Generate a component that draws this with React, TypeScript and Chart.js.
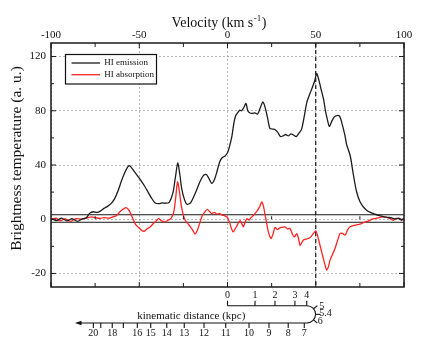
import React, { useEffect, useRef } from 'react';
import { Chart, registerables, LinearScale } from 'chart.js';

// ---------------- data ----------------
const EMISSION_VELOCITY = [
  -100, -97, -94, -91, -88, -85, -82, -80, -78, -76, -74, -72, -70, -68, -66, -64, -62, -60, -58, -56,
  -55, -53, -51, -49, -47, -45, -43, -41, -39, -37, -35, -33, -31, -29.5, -28.2, -27, -26, -24.5, -23, -21,
  -19.5, -17.5, -15.5, -13.5, -12, -10.5, -9, -7.5, -6, -4.5, -3, -1.5, 0, 1, 2.4, 3.5, 4.5, 6, 7, 8,
  9.5, 10.5, 11.5, 12.5, 14, 15.5, 17, 18.5, 20, 21, 22.5, 24, 25.5, 27, 28.5, 30, 31.5, 33, 34.5, 36,
  37.5, 39, 40.5, 42, 43.5, 45, 46.5, 48, 49.5, 50.5, 51.5, 53, 54.5, 55.5, 56.5, 57.7, 59, 60.5, 62, 63.5,
  65, 66.5, 67.5, 69.5, 71.3, 73, 75, 77, 79, 81, 83, 85, 87.5, 90, 93, 95, 97, 98.5, 100,
];
const EMISSION_TEMPERATURE = [
  0.5, -0.5, 0.8, -0.6, 0.4, -0.8, 0.5, 1.0, 4.5, 5.5, 5.0, 6.0, 8.0, 9.5, 11.5, 15, 21, 28.5, 35, 39.5,
  39, 35.5, 32, 28.5, 24.5, 20, 15.5, 12, 11.5, 12, 11.8, 12.5, 19, 31, 41.5, 33, 23, 15, 11, 12,
  15.5, 21.5, 28, 32.5, 33, 30, 26.5, 29, 35, 42, 45.5, 46.5, 49, 53, 60.5, 70, 76, 79, 80.5, 80,
  83, 85.5, 80, 78.5, 78, 78.5, 77.5, 82, 86.5, 84, 76, 67, 66.5, 66, 64, 61, 61.5, 62.5, 61.5, 63,
  62, 61, 63.5, 66.5, 76, 86.5, 92, 97, 102.5, 107.5, 104, 96, 88, 80, 74, 68.5, 72, 75.5, 76.5, 76,
  70, 62, 55, 47, 33, 21, 13, 9, 6.5, 5, 4, 3, 2.3, 1.5, 1, 0.2, 0.8, -0.3, 0.3,
];

const ABSORPTION_VELOCITY = [
  -100, -97, -95, -92, -89, -86, -83, -80, -77, -75, -72, -70, -67, -65, -63, -61, -59, -57.5, -56, -55,
  -53.5, -52, -50.5, -48.5, -47, -45.5, -44, -42, -40, -39, -37.5, -35.5, -33.5, -32, -30.5, -29.5, -28.3, -27.2, -26.3, -25,
  -24, -22.5, -21, -19.5, -18.4, -17, -16, -14.5, -13, -11.5, -10, -9, -7.5, -6, -4.5, -3, -1.5, 0, 1.2, 2.3,
  3.3, 4.3, 5.2, 6.3, 7.2, 8.2, 9, 10, 11, 12.2, 13.3, 14.5, 15.6, 17, 18.3, 19.4, 20.3, 21.2, 22.2, 23,
  24.6, 25.8, 26.9, 28.2, 29.7, 31, 32.6, 34, 35.4, 37, 38, 39.2, 40.2, 41.1, 42.2, 43, 44.5, 45.8, 47.2, 48.6,
  50, 50.8, 52.4, 54.3, 55.3, 56.2, 57.2, 58.1, 59.5, 60.9, 62.3, 63.7, 65.2, 66.6, 68, 69.4, 72.2, 74, 76, 78,
  79.8, 82, 83.6, 86, 88.3, 91.1, 92.5, 93.9, 95.5, 96.8, 98.5, 100,
];
const ABSORPTION_TEMPERATURE = [
  0, 0.8, -0.6, 0.3, -0.8, 0.4, 0, 0.8, 1.8, 1.2, 0.6, 1.2, 0.8, 1.8, 2.5, 5.5, 7.5, 8.5, 7, 4.5,
  0, -2, -3, -4.2, -4.4, -3.5, -3, -1.6, -0.4, 0.5, -0.5, -1, -0.3, 0.6, 5, 14, 27.5, 20, 11, 3,
  -0.4, -1.6, -2.8, -4.2, -5.5, -4, -2, 2, 5, 7.2, 5.5, 4.2, 5, 3.8, 4.2, 3, 2.5, 1.2, -1.2, -3.5,
  -4.7, -3.5, -2.6, -1.2, -0.5, -1.8, -2.8, -1, 0.5, -0.3, 1.2, 2.5, 4.2, 6.5, 9.5, 12.8, 10, 4, -1.5, -4.3,
  -7.1, -5.5, -3, -3.8, -3.2, -3, -2.8, -3.6, -3.4, -5.8, -6.5, -5.3, -7, -9.6, -8.5, -7.7, -7.3, -7.1, -6.5, -5.3,
  -4.3, -5.5, -9.6, -14.5, -17, -18.8, -17.5, -15.1, -13, -10.8, -8, -5.3, -5.2, -5.9, -4, -2.8, -2.2, -2, -1.6, -1,
  -0.7, 0, 0.5, 1.2, 1.7, 1, 0.2, -0.4, 0.6, 0.5, -0.2, 0.2,
];

const VELOCITY_MIN = -100;
const VELOCITY_MAX = 100;
const VELOCITY_STEP = 50;
const VELOCITY_MINOR_TICKS = [-75, -25, 25, 75];
const TEMPERATURE_MIN = -25;
const TEMPERATURE_MAX = 130;
const TEMPERATURE_TICKS = [-20, 0, 40, 80, 120];
const TEMPERATURE_MINOR_TICKS = [-10, 20, 60, 100];
const NEGATIVE_STRETCH = 2; // the negative part of the temperature axis is drawn at twice the scale
const NOISE_LEVELS = [3.3, -1.1];
const TANGENT_VELOCITY = 50;

const NEAR_DISTANCES = ['0', '1', '2', '3', '4'];
const NEAR_VELOCITIES = [0, 15.6, 26.9, 38.2, 44.9];
const TURN_DISTANCES = ['5', '5.4', '6'];
const TURN_VELOCITY = 45;
const FAR_DISTANCES = ['7', '8', '9', '10', '11', '12', '13', '14', '15', '16', '17', '18', '19', '20'];
const FAR_VELOCITIES = [43.5, 34.4, 23.5, 12.2, -1.0, -13.3, -24.5, -34.4, -43.5, -51.1, -59.0, -65.3, -71.8, -76.0];
const FAR_UNLABELLED = ['17', '19'];
const ARROW_VELOCITY = -86.4;

const LEGEND_LABELS = ['HI emission', 'HI absorption'];
const SERIES_COLORS = ['#1c1c1c', '#ff2424'];
const X_TITLE = 'Velocity (km s';
const X_TITLE_SUP = '-1';
const Y_TITLE = 'Brightness temperature (a. u.)';
const DIST_TITLE = 'kinematic distance (kpc)';

const FONT = "'Liberation Serif', 'Times New Roman', serif";

// ---------------- split linear scale ----------------
class SplitLinearScale extends LinearScale {
  static id = 'splitLinear';
  static defaults = {};
  determineDataLimits() {
    super.determineDataLimits();
    if (this.min < 0) this.min = this.min * NEGATIVE_STRETCH;
    if (this.max < 0) this.max = this.max * NEGATIVE_STRETCH;
  }
  buildTicks() {
    return TEMPERATURE_TICKS.map((v) => ({ value: v }));
  }
  getPixelForValue(value: number) {
    if (value === null || value === undefined) return NaN;
    return super.getPixelForValue(value < 0 ? value * NEGATIVE_STRETCH : value);
  }
  getValueForPixel(pixel: number) {
    const v = super.getValueForPixel(pixel);
    return v < 0 ? v / NEGATIVE_STRETCH : v;
  }
}

Chart.register(...registerables, SplitLinearScale);

function seg(ctx: CanvasRenderingContext2D, x1: number, y1: number, x2: number, y2: number) {
  ctx.beginPath();
  ctx.moveTo(x1, y1);
  ctx.lineTo(x2, y2);
  ctx.stroke();
}

const decorPlugin = {
  id: 'decor',
  beforeDatasetsDraw(chart: any) {
    const { ctx, chartArea: a } = chart;
    const x = chart.scales.x;
    const y = chart.scales.y;
    ctx.save();
    ctx.strokeStyle = '#151515';
    ctx.lineWidth = 1.1;
    NOISE_LEVELS.forEach((n) => {
      const py = y.getPixelForValue(n);
      seg(ctx, a.left, py, a.right, py);
    });
    ctx.setLineDash([4, 3]);
    ctx.lineWidth = 1.2;
    const tx = x.getPixelForValue(TANGENT_VELOCITY);
    seg(ctx, tx, a.top, tx, a.bottom);
    ctx.restore();
  },
  afterDatasetsDraw(chart: any) {
    const { ctx, chartArea: a } = chart;
    const x = chart.scales.x;
    const y = chart.scales.y;
    ctx.save();
    ctx.strokeStyle = '#1a1a1a';
    ctx.lineWidth = 1;
    // inward ticks
    TEMPERATURE_TICKS.forEach((v) => {
      const py = y.getPixelForValue(v);
      seg(ctx, a.left, py, a.left + 5, py);
      seg(ctx, a.right - 5, py, a.right, py);
    });
    TEMPERATURE_MINOR_TICKS.forEach((v) => {
      const py = y.getPixelForValue(v);
      seg(ctx, a.left, py, a.left + 3, py);
      seg(ctx, a.right - 3, py, a.right, py);
    });
    for (let v = VELOCITY_MIN; v <= VELOCITY_MAX; v += VELOCITY_STEP) {
      const px = x.getPixelForValue(v);
      seg(ctx, px, a.top, px, a.top + 5);
      seg(ctx, px, a.bottom - 5, px, a.bottom);
    }
    const y0 = y.getPixelForValue(0);
    VELOCITY_MINOR_TICKS.forEach((v) => {
      const px = x.getPixelForValue(v);
      seg(ctx, px, a.top, px, a.top + 4);
      seg(ctx, px, a.bottom - 4, px, a.bottom);
      seg(ctx, px, y0 - 3, px, y0);
    });
    // frame
    ctx.lineWidth = 1.5;
    ctx.strokeRect(a.left, a.top, a.right - a.left, a.bottom - a.top);
    // legend
    const lx = a.left + 14.5;
    const ly = a.top + 11.5;
    ctx.fillStyle = '#fff';
    ctx.fillRect(lx, ly, 91, 29.5);
    ctx.lineWidth = 1.2;
    ctx.strokeStyle = '#111';
    ctx.strokeRect(lx, ly, 91, 29.5);
    ctx.font = `9px ${FONT}`;
    ctx.textBaseline = 'middle';
    ctx.textAlign = 'left';
    LEGEND_LABELS.forEach((label, i) => {
      const rowY = ly + 8.5 + i * 11.7;
      ctx.strokeStyle = SERIES_COLORS[i];
      ctx.lineWidth = 1.3;
      seg(ctx, lx + 6, rowY, lx + 34.5, rowY);
      ctx.fillStyle = '#111';
      ctx.fillText(label, lx + 38.8, rowY);
    });
    ctx.restore();
  },
  afterDraw(chart: any) {
    const { ctx, chartArea: a } = chart;
    const x = chart.scales.x;
    ctx.save();
    ctx.fillStyle = '#111';
    ctx.strokeStyle = '#111';
    // x title with superscript
    ctx.textBaseline = 'alphabetic';
    ctx.textAlign = 'left';
    ctx.font = `14px ${FONT}`;
    const w1 = ctx.measureText(X_TITLE).width;
    const w3 = ctx.measureText(')').width;
    ctx.font = `9px ${FONT}`;
    const w2 = ctx.measureText(X_TITLE_SUP).width;
    const total = w1 + w2 + w3 + 1;
    const cx = x.getPixelForValue(-4.8);
    let sx = cx - total / 2;
    const base = 26.5;
    ctx.font = `14px ${FONT}`;
    ctx.fillText(X_TITLE, sx, base);
    sx += w1 + 0.5;
    ctx.font = `9px ${FONT}`;
    ctx.fillText(X_TITLE_SUP, sx, base - 6);
    sx += w2 + 0.5;
    ctx.font = `14px ${FONT}`;
    ctx.fillText(')', sx, base);
    // y title
    ctx.save();
    ctx.translate(17, 158.5);
    ctx.rotate(-Math.PI / 2);
    ctx.textAlign = 'center';
    ctx.textBaseline = 'middle';
    ctx.font = `15.5px ${FONT}`;
    ctx.fillText(Y_TITLE, 0, 0);
    ctx.restore();

    // kinematic distance axis
    const yUp = a.bottom + 18.7;
    const yLow = a.bottom + 36;
    const r = (yLow - yUp) / 2;
    const yc = (yUp + yLow) / 2;
    const xTurn = x.getPixelForValue(TURN_VELOCITY);
    const xStart = x.getPixelForValue(NEAR_VELOCITIES[0]);
    const xArrow = x.getPixelForValue(ARROW_VELOCITY);
    ctx.lineWidth = 1.1;
    ctx.beginPath();
    ctx.moveTo(xStart, yUp);
    ctx.lineTo(xTurn, yUp);
    ctx.arc(xTurn, yc, r, -Math.PI / 2, Math.PI / 2, false);
    ctx.lineTo(xArrow + 5, yLow);
    ctx.stroke();
    ctx.beginPath();
    ctx.moveTo(xArrow, yLow);
    ctx.lineTo(xArrow + 6.5, yLow - 2.3);
    ctx.lineTo(xArrow + 6.5, yLow + 2.3);
    ctx.closePath();
    ctx.fill();

    ctx.font = `10px ${FONT}`;
    ctx.textAlign = 'center';
    ctx.textBaseline = 'middle';
    NEAR_VELOCITIES.forEach((v, i) => {
      const px = x.getPixelForValue(v);
      seg(ctx, px, yUp, px, yUp - 5);
      ctx.fillText(NEAR_DISTANCES[i], px, yUp - 10.5);
    });
    FAR_VELOCITIES.forEach((v, i) => {
      const px = x.getPixelForValue(v);
      seg(ctx, px, yLow, px, yLow + 5);
      if (!FAR_UNLABELLED.includes(FAR_DISTANCES[i])) ctx.fillText(FAR_DISTANCES[i], px, yLow + 10);
    });
    const turnAngles = [-40, 0, 40];
    const labelAngles = [-27, -2, 27];
    const labelDist = [16.5, 18.5, 15];
    TURN_DISTANCES.forEach((d, i) => {
      const t = (turnAngles[i] * Math.PI) / 180;
      seg(ctx, xTurn + r * Math.cos(t), yc + r * Math.sin(t), xTurn + (r + 5) * Math.cos(t), yc + (r + 5) * Math.sin(t));
      const lt = (labelAngles[i] * Math.PI) / 180;
      ctx.fillText(d, xTurn + labelDist[i] * Math.cos(lt), yc + labelDist[i] * Math.sin(lt));
    });
    ctx.font = `11px ${FONT}`;
    ctx.fillText(DIST_TITLE, x.getPixelForValue(-20.5), a.bottom + 29.3);
    ctx.restore();
  },
};

export default function App() {
  const ref = useRef<HTMLCanvasElement | null>(null);
  useEffect(() => {
    const canvas = ref.current;
    if (!canvas) return;
    const gridColor = '#a3a3a3';
    const chart = new Chart(canvas, {
      type: 'line',
      data: {
        datasets: [
          {
            label: LEGEND_LABELS[0],
            data: EMISSION_VELOCITY.map((v, i) => ({ x: v, y: EMISSION_TEMPERATURE[i] })),
            borderColor: SERIES_COLORS[0],
            borderWidth: 1.3,
            pointRadius: 0,
            tension: 0.25,
            fill: false,
          },
          {
            label: LEGEND_LABELS[1],
            data: ABSORPTION_VELOCITY.map((v, i) => ({ x: v, y: ABSORPTION_TEMPERATURE[i] })),
            borderColor: SERIES_COLORS[1],
            borderWidth: 1.3,
            pointRadius: 0,
            tension: 0.25,
            fill: false,
          },
        ],
      },
      options: {
        animation: false,
        responsive: false,
        devicePixelRatio: 1,
        layout: { padding: { left: 0, top: 0, right: 32, bottom: 59 } },
        plugins: { legend: { display: false }, tooltip: { enabled: false }, title: { display: false } },
        scales: {
          x: {
            type: 'linear',
            position: 'top',
            min: VELOCITY_MIN,
            max: VELOCITY_MAX,
            afterFit: (s: any) => {
              s.height = 43;
            },
            ticks: {
              stepSize: VELOCITY_STEP,
              padding: 1,
              autoSkip: false,
              maxRotation: 0,
              color: '#111',
              font: { family: FONT, size: 11 },
              callback: (v: any) => String(v),
            },
            grid: { color: gridColor, lineWidth: 0.8, drawTicks: false },
            border: { display: false, dash: [2, 2] },
          },
          y: {
            type: 'splitLinear',
            position: 'left',
            min: TEMPERATURE_MIN,
            max: TEMPERATURE_MAX,
            afterFit: (s: any) => {
              s.width = 51;
            },
            ticks: {
              padding: 5,
              autoSkip: false,
              color: '#111',
              font: { family: FONT, size: 11 },
              callback: (v: any) => String(v),
            },
            grid: { color: gridColor, lineWidth: 0.8, drawTicks: false },
            border: { display: false, dash: [2, 2] },
          },
        } as any,
      },
      plugins: [decorPlugin],
    } as any);
    return () => chart.destroy();
  }, []);
  return (
    <div style={{ position: 'fixed', left: 0, top: 0, width: 436, height: 346, background: '#fff' }}>
      <canvas ref={ref} width={436} height={346} style={{ width: 436, height: 346, display: 'block' }} />
    </div>
  );
}
